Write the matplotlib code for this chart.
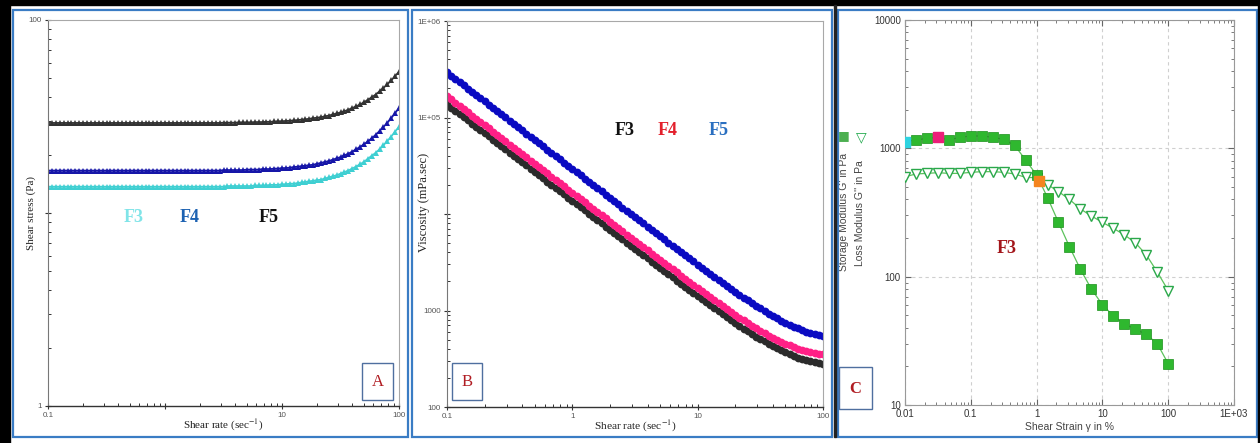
import numpy as np
import matplotlib
matplotlib.use("Agg")
import matplotlib.pyplot as plt
from matplotlib.patches import Rectangle
from matplotlib.ticker import FixedLocator, FixedFormatter, LogLocator, NullFormatter

plt.rcParams["mathtext.fontset"] = "stix"

# ---------------- data ----------------
# Shear-rate sweep of the rheometer (log sweep, 30 points per decade, 0.1 -> 100 1/s)
shear_rate = np.logspace(-1, 2, 91)

# Panel A: shear stress (Pa)
stress_F3 = [
    13.7, 13.7, 13.7, 13.7, 13.7, 13.7, 13.7, 13.7, 13.7, 13.7, 13.7, 13.7, 13.7, 13.7, 13.7,
    13.7, 13.7, 13.7, 13.7, 13.7, 13.7, 13.7, 13.7, 13.7, 13.7, 13.7, 13.7, 13.7, 13.7, 13.7,
    13.7, 13.7, 13.7, 13.7, 13.7, 13.7, 13.7, 13.7, 13.7, 13.7, 13.7, 13.7, 13.7, 13.7, 13.7,
    13.7, 13.8, 13.8, 13.8, 13.8,
    13.8, 13.8, 13.8, 13.9, 13.9, 13.9, 13.9, 14.0, 14.0, 14.0, 14.1, 14.1, 14.2, 14.2, 14.3,
    14.4, 14.5, 14.6, 14.7, 14.8, 14.9, 15.1, 15.3, 15.5, 15.7, 16.0, 16.3, 16.6, 17.0, 17.4,
    17.9, 18.4, 19.1, 19.8, 20.5, 21.4, 22.4, 23.6, 24.9, 26.4, 28.0]
stress_F4 = [
    16.6, 16.6, 16.6, 16.6, 16.6, 16.6, 16.6, 16.6, 16.6, 16.6, 16.6, 16.6, 16.6, 16.6, 16.6,
    16.6, 16.6, 16.6, 16.6, 16.6, 16.6, 16.6, 16.6, 16.6, 16.6, 16.6, 16.6, 16.6, 16.6, 16.6,
    16.6, 16.6, 16.6, 16.6, 16.6, 16.6, 16.6, 16.6, 16.6, 16.6, 16.6, 16.6, 16.6, 16.6, 16.6,
    16.7, 16.7, 16.7, 16.7, 16.7,
    16.7, 16.8, 16.8, 16.8, 16.8, 16.9, 16.9, 16.9, 17.0, 17.0, 17.1, 17.1, 17.2, 17.3, 17.4,
    17.5, 17.6, 17.7, 17.8, 18.0, 18.2, 18.4, 18.6, 18.9, 19.2, 19.5, 19.9, 20.3, 20.8, 21.4,
    22.0, 22.7, 23.5, 24.4, 25.4, 26.6, 27.9, 29.3, 31.0, 32.9, 35.0]
stress_F5 = [
    29.3, 29.3, 29.3, 29.3, 29.3, 29.3, 29.3, 29.3, 29.3, 29.3, 29.3, 29.3, 29.3, 29.3, 29.3,
    29.3, 29.3, 29.3, 29.3, 29.3, 29.3, 29.3, 29.3, 29.3, 29.3, 29.3, 29.3, 29.3, 29.3, 29.3,
    29.3, 29.3, 29.3, 29.3, 29.3, 29.3, 29.3, 29.3, 29.3, 29.3, 29.3, 29.3, 29.3, 29.3, 29.3,
    29.4, 29.4, 29.4, 29.4, 29.5,
    29.5, 29.5, 29.5, 29.6, 29.6, 29.6, 29.7, 29.7, 29.8, 29.9, 29.9, 30.0, 30.1, 30.2, 30.3,
    30.5, 30.6, 30.8, 31.0, 31.2, 31.4, 31.7, 32.0, 32.4, 32.8, 33.2, 33.7, 34.3, 35.0, 35.7,
    36.5, 37.5, 38.6, 39.8, 41.1, 42.7, 44.4, 46.4, 48.6, 51.2, 54.0]

# Panel C: amplitude sweep of F3
strain = [0.01, 0.0147, 0.0215, 0.0316, 0.0464, 0.0681, 0.1, 0.147, 0.215, 0.316, 0.464, 0.681,
          1.0, 1.47, 2.15, 3.16, 4.64, 6.81, 10, 14.7, 21.5, 31.6, 46.4, 68.1, 100]
G_storage = [1127, 1161, 1196, 1219, 1161, 1219, 1248, 1248, 1220, 1175, 1055, 811,
             620, 412, 265, 171, 114, 80, 60.5, 49.4, 42.8, 39.1, 35.5, 30.1, 21]
G_loss = [601, 631, 638, 646, 638, 638, 650, 658, 658, 650, 631, 594,
          590, 522, 460, 400, 337, 297, 265, 238, 212, 184, 148, 109, 78]
crossover_strain = [1.08]
crossover_modulus = [559]

labels = ["F3", "F4", "F5"]

W, H = 1260, 443
fig = plt.figure(figsize=(W / 100, H / 100), dpi=100)
fig.patch.set_facecolor("white")


def fx(x):
    return x / W


def fy(y):
    return 1 - y / H


def ax_at(x0, x1, y0, y1):
    return fig.add_axes([fx(x0), fy(y1), (x1 - x0) / W, (y1 - y0) / H])


SERIF = ["Liberation Serif", "DejaVu Serif"]
SANS = ["Liberation Sans", "DejaVu Sans"]

# --------------- Panel A ---------------
axA = ax_at(48, 399, 20, 406)
colsA = {"F3": "#3fcfd2", "F4": "#1616a8", "F5": "#333333"}
for lab, s in zip(labels, [stress_F3, stress_F4, stress_F5]):
    axA.plot(shear_rate, s, color=colsA[lab], lw=1.2, marker="^", ms=4.3, mew=0)
axA.set_xscale("log")
axA.set_yscale("log")
axA.set_xlim(0.1, 100)
axA.set_ylim(1, 100)

# --------------- Panel B ---------------
axB = ax_at(447, 823, 21, 407)
colsB = {"F3": "#2b2b2b", "F4": "#ff1f86", "F5": "#0a0ac2"}
rate = np.asarray(shear_rate)
for lab, s in zip(labels, [stress_F3, stress_F4, stress_F5]):
    visc = np.asarray(s) / rate * 1000.0  # viscosity in mPa.s = stress / shear rate
    axB.plot(rate, visc, color=colsB[lab], lw=2.0, marker="o", ms=5.6, mew=0)
axB.set_xscale("log")
axB.set_yscale("log")
axB.set_xlim(0.1, 100)
axB.set_ylim(100, 1e6)

for ax in (axA, axB):
    for side in ("top", "right"):
        ax.spines[side].set_color("#a8a8a8")
        ax.spines[side].set_linewidth(0.8)
    ax.spines["left"].set_color("#777777")
    ax.spines["bottom"].set_color("#333333")
    ax.spines["left"].set_linewidth(0.8)
    ax.spines["bottom"].set_linewidth(1.0)
    ax.tick_params(which="major", direction="inout", length=5, width=0.8, colors="#333333",
                   labelsize=5.8, labelcolor="#555555", pad=2)
    ax.tick_params(which="minor", direction="in", length=2.5, width=0.7, colors="#333333")
    ax.xaxis.set_minor_locator(LogLocator(base=10, subs=np.arange(2, 10)))
    ax.xaxis.set_minor_formatter(NullFormatter())
    ax.yaxis.set_minor_locator(LogLocator(base=10, subs=np.arange(2, 10)))
    ax.yaxis.set_minor_formatter(NullFormatter())

axA.xaxis.set_major_locator(FixedLocator([0.1, 1, 10, 100]))
axA.xaxis.set_major_formatter(FixedFormatter(["0.1", "", "10", "100"]))
axA.yaxis.set_major_locator(FixedLocator([1, 10, 100]))
axA.yaxis.set_major_formatter(FixedFormatter(["1", "", "100"]))
axB.xaxis.set_major_locator(FixedLocator([0.1, 1, 10, 100]))
axB.xaxis.set_major_formatter(FixedFormatter(["0.1", "1", "10", "100"]))
axB.yaxis.set_major_locator(FixedLocator([100, 1000, 1e4, 1e5, 1e6]))
axB.yaxis.set_major_formatter(FixedFormatter(["100", "1000", "", "1E+05", "1E+06"]))
for ax in (axA, axB):
    for t in ax.get_xticklabels() + ax.get_yticklabels():
        t.set_family(SANS)

axA.set_ylabel("Shear stress (Pa)", family=SERIF, fontsize=8, color="#222222")
axA.yaxis.set_label_coords(-0.035, 0.5)
axA.set_xlabel("Shear rate (sec$^{-1}$)", family=SERIF, fontsize=8, color="#222222")
axA.xaxis.set_label_coords(0.5, -0.03)
axB.set_ylabel("Viscosity (mPa.sec)", family=SERIF, fontsize=9, color="#222222")
axB.yaxis.set_label_coords(-0.045, 0.53)
axB.set_xlabel("Shear rate (sec$^{-1}$)", family=SERIF, fontsize=8.2, color="#222222")
axB.xaxis.set_label_coords(0.5, -0.03)

# in-plot F labels
for txt, x, c in [("F3", 134, "#80e4e8"), ("F4", 190, "#1d62b2"), ("F5", 269, "#111111")]:
    fig.text(fx(x), fy(217), txt, family=SERIF, fontweight="bold", fontsize=13, color=c,
             ha="center", va="center")
for txt, x, c in [("F3", 625, "#111111"), ("F4", 668, "#e3202c"), ("F5", 719, "#2a6fc0")]:
    fig.text(fx(x), fy(130), txt, family=SERIF, fontweight="bold", fontsize=13, color=c,
             ha="center", va="center")

# --------------- Panel C ---------------
axC = ax_at(905, 1234, 20, 405)
axC.set_xscale("log")
axC.set_yscale("log")
axC.set_xlim(0.01, 1000)
axC.set_ylim(10, 10000)
axC.grid(True, which="major", ls=(0, (3, 3)), color="#cfcfcf", lw=0.8)
gcol = "#2fb82f"
axC.plot(strain, G_loss, color="#5cc25c", lw=0.9, marker="v", ms=7, mfc="white",
         mec="#2aa84a", mew=1.0, zorder=3)
axC.plot(strain, G_storage, color="#5cc25c", lw=0.9, marker="s", ms=7.5, mfc=gcol,
         mec="#1a8f1a", mew=0.5, zorder=4)
# highlighted markers
axC.plot(strain[0], G_storage[0], ls="none", marker="s", ms=7.5, mfc="#2ed3e0", mec="#2ed3e0", zorder=5)
axC.plot(strain[3], G_storage[3], ls="none", marker="s", ms=7.5, mfc="#ec1e79", mec="#ec1e79", zorder=5)
axC.plot(crossover_strain, crossover_modulus, ls="none", marker="s", ms=7.5, mfc="#f4841f",
         mec="#f4841f", zorder=6)
for s in axC.spines.values():
    s.set_color("#999999")
    s.set_linewidth(0.8)
axC.tick_params(which="both", direction="in", top=True, right=True, colors="#666666")
axC.tick_params(which="major", length=4, labelsize=7, labelcolor="#333333", pad=3)
axC.tick_params(which="minor", length=2)
axC.xaxis.set_major_locator(FixedLocator([0.01, 0.1, 1, 10, 100, 1000]))
axC.xaxis.set_major_formatter(FixedFormatter(["0.01", "0.1", "1", "10", "100", "1E+03"]))
axC.yaxis.set_major_locator(FixedLocator([10, 100, 1000, 10000]))
axC.yaxis.set_major_formatter(FixedFormatter(["10", "100", "1000", "10000"]))
axC.xaxis.set_minor_locator(LogLocator(base=10, subs=np.arange(2, 10)))
axC.yaxis.set_minor_locator(LogLocator(base=10, subs=np.arange(2, 10)))
axC.xaxis.set_minor_formatter(NullFormatter())
axC.yaxis.set_minor_formatter(NullFormatter())
for t in axC.get_xticklabels() + axC.get_yticklabels():
    t.set_family(SANS)
axC.set_xlabel("Shear Strain \u03b3 in %", family=SANS, fontsize=7.5, color="#444444", labelpad=2)

fig.text(fx(844), fy(212), "Storage Modulus G' in Pa", rotation=90, family=SANS, fontsize=7.5,
         color="#444444", ha="center", va="center")
fig.text(fx(860), fy(213), "Loss Modulus G'' in Pa", rotation=90, family=SANS, fontsize=7.5,
         color="#444444", ha="center", va="center")
fig.text(fx(844), fy(136), "\u25a0", family=["DejaVu Sans"], fontsize=9, color="#4caf50",
         ha="center", va="center")
fig.text(fx(861), fy(137), "\u25bd", family=["DejaVu Sans"], fontsize=10, color="#1ea84a",
         ha="center", va="center")
fig.text(fx(1007), fy(249), "F3", family=SERIF, fontweight="bold", fontsize=13, color="#a3161b",
         ha="center", va="center")

# --------------- panel letter boxes ---------------
for (x0, y0, x1, y1, letter, bold) in [(362, 363, 393, 400, "A", False),
                                       (452, 363, 482, 400, "B", False),
                                       (839, 367, 872, 409, "C", True)]:
    fig.add_artist(Rectangle((fx(x0), fy(y1)), (x1 - x0) / W, (y1 - y0) / H,
                             transform=fig.transFigure, fill=True, fc="white",
                             ec="#4f6f9f", lw=1.0, zorder=10))
    fig.text(fx((x0 + x1) / 2), fy((y0 + y1) / 2 + 1), letter, family=SERIF,
             fontweight="bold" if bold else "normal", fontsize=12,
             color="#b01c22", ha="center", va="center", zorder=11)

# --------------- frames ---------------
for (x0, x1) in [(13, 408), (412, 832), (838, 1257)]:
    fig.add_artist(Rectangle((fx(x0), fy(437)), (x1 - x0) / W, (437 - 10) / H,
                             transform=fig.transFigure, fill=False, ec="#3a7cc4", lw=1.6,
                             zorder=9))
fig.add_artist(Rectangle((0, fy(5)), 1, 5 / H, transform=fig.transFigure, color="black", zorder=12))
fig.add_artist(Rectangle((0, 0), 10 / W, 1, transform=fig.transFigure, color="black", zorder=12))
fig.add_artist(Rectangle((1258 / W, 0), 2 / W, 1, transform=fig.transFigure, color="black", zorder=12))
fig.add_artist(Rectangle((834 / W, fy(437)), 2 / W, 432 / H, transform=fig.transFigure,
                         color="#222222", zorder=12))

fig.savefig("out.png", dpi=100)
